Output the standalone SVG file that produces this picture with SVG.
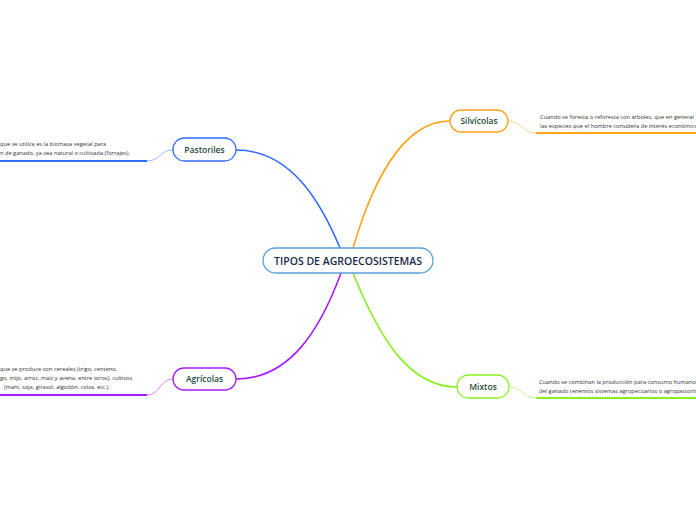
<svg xmlns="http://www.w3.org/2000/svg" width="696" height="520" viewBox="0 0 696 520">
<style>
.node{fill:#fff;stroke-width:1.3}
.lbl{font-family:"Open Sans","Noto Sans",sans-serif;font-size:8.5px;fill:#1e4a3a;text-anchor:middle;font-weight:600}
.main{font-family:"Open Sans","Noto Sans",sans-serif;font-size:10.5px;fill:#1a2a4a;text-anchor:middle;font-weight:600}
.note{font-family:"Open Sans","Noto Sans",sans-serif;font-size:5.7px;fill:#333}
.c{fill:none}
</style>
<rect width="696" height="520" fill="#fff"/>
<g id="connectors">
<path class="c" d="M340,248 C320,200 290,150 236,150" stroke="#2f6bff" stroke-width="1.6"/>
<path class="c" d="M353,248 C370,190 400,121 450,121" stroke="#ffa31a" stroke-width="1.6"/>
<path class="c" d="M341,273 C320,330 290,379 236,379" stroke="#a61cff" stroke-width="1.6"/>
<path class="c" d="M353,273 C380,340 410,387 457,387" stroke="#86f020" stroke-width="1.6"/>
<path class="c" d="M173,150 C160,150 160,161 147,161" stroke="#9bb8ff" stroke-width="1"/>
<path class="c" d="M0,161 H147" stroke="#2f6bff" stroke-width="2"/>
<path class="c" d="M508,121 C522,121 522,133 536,133" stroke="#ffd08a" stroke-width="1"/>
<path class="c" d="M536,133 H696" stroke="#ffa31a" stroke-width="2"/>
<path class="c" d="M173,379 C160,379 160,395 147,395" stroke="#cf8aff" stroke-width="1"/>
<path class="c" d="M0,395 H147" stroke="#a61cff" stroke-width="2"/>
<path class="c" d="M509,387 C522,387 522,398 536,398" stroke="#c4f78a" stroke-width="1"/>
<path class="c" d="M536,398 H696" stroke="#86f020" stroke-width="2"/>
</g>
<g id="center">
<rect class="node" x="263" y="248" width="170" height="25" rx="12.5" stroke="#5aa0dc"/>
<text class="main" x="348" y="264.5">TIPOS DE AGROECOSISTEMAS</text>
</g>
<g id="pastoriles">
<rect class="node" x="173" y="138" width="63" height="23" rx="11.5" stroke="#2f6bff"/>
<text class="lbl" x="204.5" y="152.5">Pastoriles</text>
<text class="note" x="0" y="146">que se utiliza es la biomasa vegetal para</text>
<text class="note" x="0" y="155">n de ganado, ya sea natural o cultivada (forrajes).</text>
</g>
<g id="silvicolas">
<rect class="node" x="450" y="110" width="58" height="22" rx="11" stroke="#ffa31a"/>
<text class="lbl" x="479" y="124">Silvícolas</text>
<text class="note" x="540" y="119">Cuando se foresta o reforesta con árboles, que en general</text>
<text class="note" x="540" y="128">las especies que el hombre considera de interés económico</text>
</g>
<g id="agricolas">
<rect class="node" x="173" y="368" width="63" height="22" rx="11" stroke="#a61cff"/>
<text class="lbl" x="204.5" y="382">Agrícolas</text>
<text class="note" x="0" y="371">que se produce son cereales (trigo, centeno,</text>
<text class="note" x="0" y="380">go, mijo, arroz, maíz y avena, entre otros), cultivos</text>
<text class="note" x="4" y="389">(maní, soja, girasol, algodón, colza, etc.).</text>
</g>
<g id="mixtos">
<rect class="node" x="457" y="375" width="52" height="23" rx="11.5" stroke="#86f020"/>
<text class="lbl" x="483" y="389.5">Mixtos</text>
<text class="note" x="539" y="384">Cuando se combinan la producción para consumo humano</text>
<text class="note" x="539" y="393">del ganado tenemos sistemas agropecuarios o agropastoriles</text>
</g>
</svg>
